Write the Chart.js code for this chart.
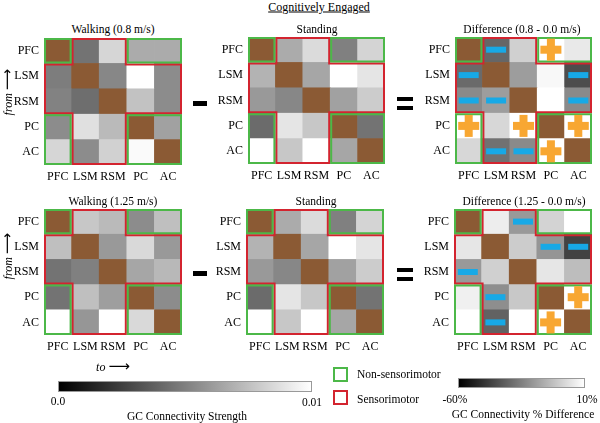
<!DOCTYPE html>
<html>
<head>
<meta charset="utf-8">
<script src="https://cdn.jsdelivr.net/npm/chart.js@4"></script>
<style>
  body { margin: 0; background: #fff; }
  #fig { position: relative; width: 600px; height: 423px; overflow: hidden; font-family: 'Liberation Serif', serif; color: #000; }
  #fig canvas { position: absolute; }
  .t { position: absolute; white-space: nowrap; transform: translate(-50%, -50%); font-size: 11.5px; }
  .op { position: absolute; background: #000; }
  .bar { position: absolute; border: 1px solid #999; box-sizing: border-box; background: linear-gradient(to right, #000, #fff); }
  .sq { position: absolute; width: 15px; height: 15px; box-sizing: border-box; border: 2px solid; background: #fff; }
  .arr { font-size: 15px; font-style: normal; font-family: 'DejaVu Sans', sans-serif; }
</style>
</head>
<body>
<div id="fig">
  <canvas id="walk08"></canvas>
  <canvas id="stand1"></canvas>
  <canvas id="diff08"></canvas>
  <canvas id="walk125"></canvas>
  <canvas id="stand2"></canvas>
  <canvas id="diff125"></canvas>

  <div class="t" style="left:319px;top:7px;text-decoration:underline;font-size:12px">Cognitively Engaged</div>
  <div class="t" style="left:113px;top:29px">Walking (0.8 m/s)</div>
  <div class="t" style="left:317px;top:29px">Standing</div>
  <div class="t" style="left:522px;top:29px">Difference (0.8 - 0.0 m/s)</div>
  <div class="t" style="left:113px;top:201px">Walking (1.25 m/s)</div>
  <div class="t" style="left:316px;top:201px">Standing</div>
  <div class="t" style="left:524px;top:201px">Difference (1.25 - 0.0 m/s)</div>

  <div class="t" style="left:7px;top:92px;transform:translate(-50%,-50%) rotate(-90deg);font-style:italic;font-size:12px">from <span class="arr">⟶</span></div>
  <div class="t" style="left:7px;top:256px;transform:translate(-50%,-50%) rotate(-90deg);font-style:italic;font-size:12px">from <span class="arr">⟶</span></div>
  <div class="t" style="left:113px;top:366px;font-style:italic;font-size:12px">to <span class="arr">⟶</span></div>

  <div class="op" style="left:193px;top:101px;width:14px;height:5px"></div>
  <div class="op" style="left:193px;top:271px;width:14px;height:5px"></div>
  <div class="op" style="left:397px;top:97px;width:16px;height:4px"></div>
  <div class="op" style="left:397px;top:106px;width:16px;height:4px"></div>
  <div class="op" style="left:397px;top:268px;width:16px;height:4px"></div>
  <div class="op" style="left:397px;top:277px;width:16px;height:4px"></div>

  <div class="bar" style="left:58px;top:381px;width:254px;height:11px"></div>
  <div class="t" style="left:58px;top:401px">0.0</div>
  <div class="t" style="left:312px;top:402px">0.01</div>
  <div class="t" style="left:187px;top:416px">GC Connectivity Strength</div>

  <div class="sq" style="left:333px;top:367px;border-color:#4cb848"></div>
  <div class="t" style="left:357px;top:374px;transform:translate(0,-50%)">Non-sensorimotor</div>
  <div class="sq" style="left:333px;top:390px;border-color:#d3242f"></div>
  <div class="t" style="left:357px;top:399px;transform:translate(0,-50%)">Sensorimotor</div>

  <div class="bar" style="left:458px;top:378px;width:127px;height:10px"></div>
  <div class="t" style="left:455px;top:399px">-60%</div>
  <div class="t" style="left:587px;top:399px">10%</div>
  <div class="t" style="left:523px;top:414px">GC Connectivity % Difference</div>
</div>
<script>
// regions, rows = "from", columns = "to"
const regions = ['PFC', 'LSM', 'RSM', 'PC', 'AC'];

// GC connectivity strength (0 - 0.01), null on the diagonal
const walking08 = [
  [null,   0.0045, 0.0084, 0.0067, 0.0067],
  [0.0049, null,   0.0053, 0.0100, 0.0055],
  [0.0051, 0.0043, null,   0.0076, 0.0055],
  [0.0055, 0.0088, 0.0073, null,   0.0063],
  [0.0084, 0.0055, 0.0082, 0.0098, null  ]
];
const standing = [
  [null,   0.0067, 0.0086, 0.0050, 0.0083],
  [0.0070, null,   0.0065, 0.0100, 0.0090],
  [0.0060, 0.0053, null,   0.0063, 0.0080],
  [0.0042, 0.0090, 0.0078, null,   0.0045],
  [0.0100, 0.0078, 0.0100, 0.0065, null  ]
];
const walking125 = [
  [null,   0.0078, 0.0073, 0.0055, 0.0075],
  [0.0075, null,   0.0060, 0.0085, 0.0060],
  [0.0045, 0.0050, null,   0.0065, 0.0072],
  [0.0045, 0.0075, 0.0062, null,   0.0055],
  [0.0100, 0.0059, 0.0100, 0.0085, null  ]
];

// % difference (-60% .. 10%)
const diff08 = [
  [null, -32,  -3,  10,   4],
  [-31, null, -17,   8, -39],
  [-22,  -17, null, 10, -22],
  [ 10,   -1,  10, null,  10],
  [ -1,  -29, -22,  10, null]
];
const diff125 = [
  [null,   5, -18,  -2,  10],
  [  3, null,  -4, -19, -42],
  [-18,   -3, null,  3,  -8],
  [  6,  -21,  -5, null,  10],
  [ 10,  -33,  10,  10, null]
];

// significant change: -1 decrease, 1 increase
const signs08 = [
  [0, -1, 0, 1, 0],
  [-1, 0, 0, 0, -1],
  [-1, -1, 0, 0, -1],
  [1, 0, 1, 0, 1],
  [0, -1, -1, 1, 0]
];
const signs125 = [
  [0, 0, -1, 0, 0],
  [0, 0, 0, -1, -1],
  [-1, 0, 0, 0, 0],
  [0, -1, 0, 0, 1],
  [0, -1, 0, 1, 0]
];

const BROWN = '#8b5a34';
const GREEN = '#4cb848';
const RED = '#d3242f';
const BLUE = '#17a9e6';
const ORANGE = '#f8a732';

const grayOf = f => {
  const g = Math.round(255 * Math.max(0, Math.min(1, f)));
  return `rgb(${g},${g},${g})`;
};
const strengthGray = v => grayOf(v / 0.01);
const diffGray = v => grayOf((v + 60) / 70);

const PAD_L = 46, PAD_T = 2, PAD_R = 4, X_H = 24;
const tickFont = { family: 'Liberation Serif', size: 12 };

const outlinePlugin = {
  id: 'outlines',
  afterDatasetsDraw(chart, args, opts) {
    const { ctx, scales: { x, y } } = chart;
    const bx = c => x.getPixelForValue(c - 0.5);
    const by = r => y.getPixelForValue(5 - r);
    const shape = (pts, color) => {
      ctx.save();
      ctx.beginPath();
      pts.forEach(([c, r], i) => i ? ctx.lineTo(bx(c), by(r)) : ctx.moveTo(bx(c), by(r)));
      ctx.closePath();
      ctx.clip();
      ctx.lineWidth = 4;
      ctx.strokeStyle = color;
      ctx.stroke();
      ctx.restore();
    };
    shape([[1,0],[3,0],[3,1],[5,1],[5,3],[3,3],[3,5],[1,5],[1,3],[0,3],[0,1],[1,1]], RED);
    shape([[0,0],[1,0],[1,1],[0,1]], GREEN);
    shape([[3,0],[5,0],[5,1],[3,1]], GREEN);
    shape([[0,3],[1,3],[1,5],[0,5]], GREEN);
    shape([[3,3],[5,3],[5,5],[3,5]], GREEN);

    const signs = opts.signs;
    if (!signs) return;
    signs.forEach((row, r) => row.forEach((s, c) => {
      const cx = x.getPixelForValue(c);
      const cy = y.getPixelForValue(4.5 - r);
      if (s < 0) {
        ctx.fillStyle = BLUE;
        ctx.fillRect(cx - 10, cy - 3, 20, 6);
      } else if (s > 0) {
        ctx.fillStyle = ORANGE;
        ctx.fillRect(cx - 10.5, cy - 4, 21, 8);
        ctx.fillRect(cx - 4, cy - 11, 8, 22);
      }
    }));
  }
};

function matrixChart(id, area, values, toGray, signs) {
  const canvas = document.getElementById(id);
  canvas.width = (area.r - area.l) + PAD_L + PAD_R;
  canvas.height = (area.b - area.t) + PAD_T + X_H;
  canvas.style.left = (area.l - PAD_L) + 'px';
  canvas.style.top = (area.t - PAD_T) + 'px';

  // one stacked dataset per "from" row, bottom row first
  const datasets = [];
  for (let r = regions.length - 1; r >= 0; r--) {
    datasets.push({
      label: regions[r],
      data: regions.map(() => 1),
      backgroundColor: values[r].map(v => v === null ? BROWN : toGray(v)),
      borderWidth: 0,
      barPercentage: 1,
      categoryPercentage: 1
    });
  }

  return new Chart(canvas, {
    type: 'bar',
    data: { labels: regions, datasets },
    plugins: [outlinePlugin],
    options: {
      responsive: false,
      animation: false,
      layout: { padding: { left: 0, top: PAD_T, right: PAD_R, bottom: 0 } },
      plugins: {
        legend: { display: false },
        tooltip: { enabled: false },
        outlines: { signs }
      },
      scales: {
        x: {
          stacked: true,
          grid: { display: false, drawTicks: false },
          border: { display: false },
          ticks: { autoSkip: false, maxRotation: 0, padding: 5, color: '#000', font: tickFont },
          afterFit: s => { s.height = X_H; s.paddingLeft = 0; s.paddingRight = 0; }
        },
        y: {
          stacked: true,
          min: 0,
          max: 5,
          grid: { display: false, drawTicks: false },
          border: { display: false },
          afterBuildTicks: s => { s.ticks = [4.5, 3.5, 2.5, 1.5, 0.5].map(v => ({ value: v })); },
          ticks: { padding: 5, color: '#000', font: tickFont, callback: v => regions[Math.round(4.5 - v)] },
          afterFit: s => { s.width = PAD_L; s.paddingTop = 0; s.paddingBottom = 0; }
        }
      }
    }
  });
}

matrixChart('walk08', { l: 44, t: 38, r: 182, b: 165 }, walking08, strengthGray, null);
matrixChart('stand1', { l: 248, t: 37, r: 385, b: 164 }, standing, strengthGray, null);
matrixChart('diff08', { l: 455, t: 37, r: 592, b: 164 }, diff08, diffGray, signs08);
matrixChart('walk125', { l: 44, t: 209, r: 182, b: 335 }, walking125, strengthGray, null);
matrixChart('stand2', { l: 246, t: 209, r: 384, b: 335 }, standing, strengthGray, null);
matrixChart('diff125', { l: 454, t: 209, r: 592, b: 335 }, diff125, diffGray, signs125);
</script>
</body>
</html>
